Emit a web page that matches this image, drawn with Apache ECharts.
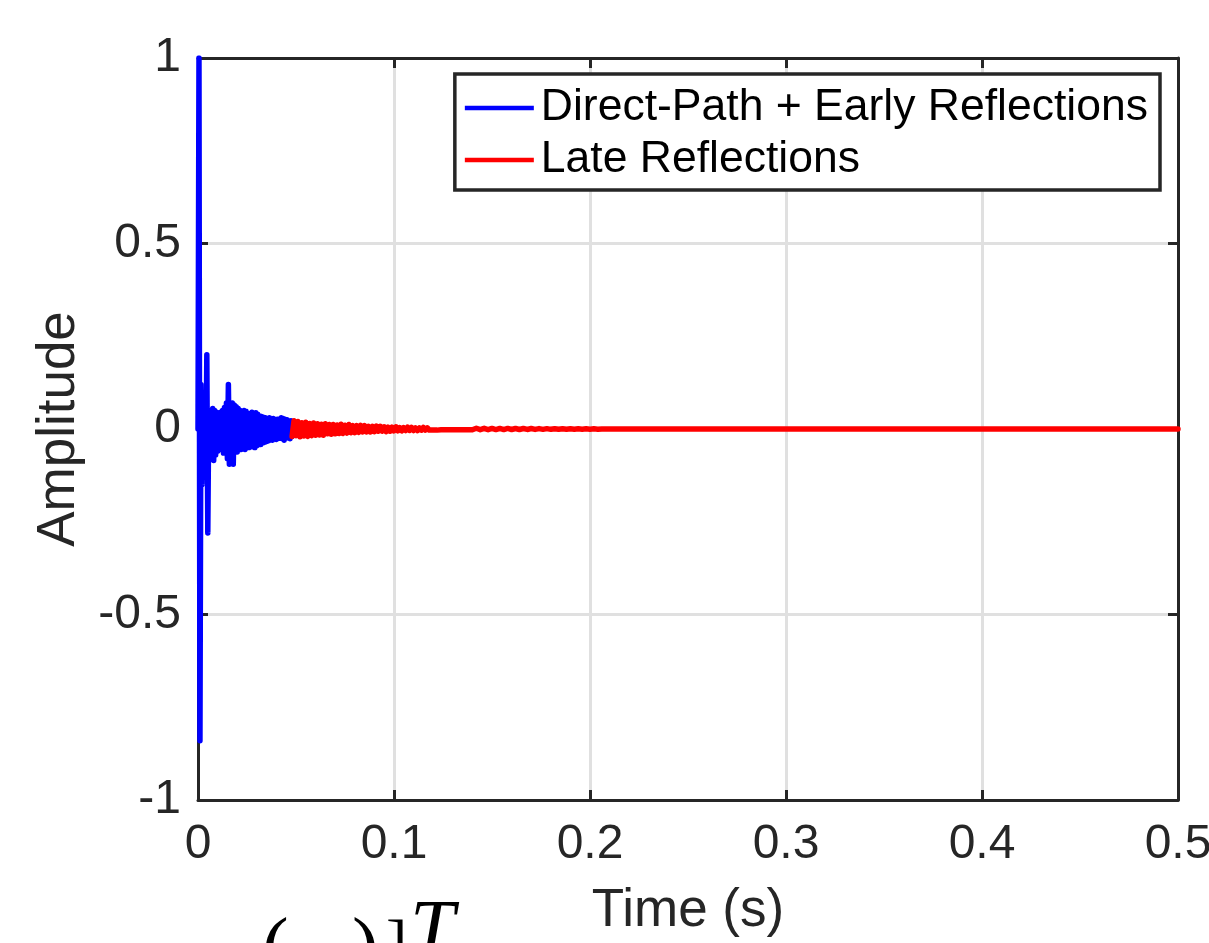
<!DOCTYPE html>
<html>
<head>
<meta charset="utf-8">
<script src="https://cdn.jsdelivr.net/npm/echarts@6/dist/echarts.min.js"></script>
<style>
  html, body { margin: 0; padding: 0; background: #fff; }
  #chart { width: 1209px; height: 943px; }
</style>
</head>
<body>
<div id="chart"></div>
<script>
const xTicks = [0, 0.1, 0.2, 0.3, 0.4, 0.5]
const yTicks = [-1, -0.5, 0, 0.5, 1]

const earlyStep = 0.0005
const earlyStart = 0
const earlyValues = [
  0, 1.0, -0.84, 0.12, -0.15, 0.08, -0.12, 0.06, -0.10, 0.20,
  -0.28, 0.05, -0.06, 0.04, -0.05, 0.055, -0.085, 0.05, -0.07, 0.045,
  -0.06, 0.04, -0.055, 0.045, -0.05, 0.05, -0.065, 0.058, -0.06, 0.07,
  -0.08, 0.12, -0.095, 0.06, -0.07, 0.07, -0.095, 0.065, -0.06, 0.06,
  -0.062, 0.055, -0.05, 0.05, -0.055, 0.045, -0.05, 0.05, -0.055, 0.048,
  -0.045, 0.042, -0.05, 0.04, -0.045, 0.045, -0.048, 0.04, -0.05, 0.044,
  -0.045, 0.04, -0.04, 0.035, -0.042, 0.034, -0.038, 0.032, -0.036, 0.03,
  -0.034, 0.028, -0.032, 0.03, -0.028, 0.026, -0.03, 0.028, -0.026, 0.025,
  -0.028, 0.026, -0.024, 0.027, -0.025, 0.03, -0.026, 0.028, -0.03, 0.026,
  -0.022, 0.025, -0.024, 0.022, -0.026, 0.022, -0.02
]

const lateStep = 0.001
const lateStart = 0.048
const lateValues = [
  -0.020, 0.022, -0.018, 0.020, -0.021, 0.017, -0.019, 0.018, -0.020, 0.015,
  -0.018, 0.016, -0.017, 0.014, -0.016, 0.013, -0.017, 0.014, -0.013, 0.012,
  -0.014, 0.012, -0.013, 0.011, -0.012, 0.013, -0.012, 0.010, -0.011, 0.012,
  -0.010, 0.009, -0.010, 0.009, -0.009, 0.010, -0.008, 0.009, -0.008, 0.007,
  -0.008, 0.007, -0.007, 0.008, -0.006, 0.007, -0.006, 0.006, -0.007, 0.005,
  -0.006, 0.005, -0.005, 0.006, -0.005, 0.004, -0.005, 0.004, -0.004, 0.005,
  -0.004, 0.004, -0.004, 0.003, -0.004, 0.003, -0.003, 0.004, -0.003, 0.003,
  -0.003, 0.002, -0.003, 0.002, -0.003, 0.002, -0.002, 0.003, -0.002, 0.002,
  -0.002, 0.002, -0.002, 0.002, -0.002, 0.002, -0.002, 0.002, -0.002, 0.002,
  -0.002, 0.002
]

const midStep = 0.002
const midStart = 0.14
const midValues = [
  -0.002, 0.002, -0.0018, 0.0018, -0.0018, 0.0016, -0.0016, 0.0016, -0.0015, 0.0015,
  -0.0014, 0.0014, -0.0013, 0.0013, -0.0012, 0.0012, -0.0011, 0.0011, -0.001, 0.001,
  -0.0009, 0.0009, -0.0008, 0.0008, -0.0007, 0.0007, -0.0006, 0.0006, -0.0005, 0.0005,
  -0.0004, 0.0004, -0.0004, 0.0003, -0.0003, 0.0003, -0.0002, 0.0002, -0.0002, 0.0002,
  -0.0001, 0.0001, -0.0001, 0.0001, -0.0001, 0.0001, 0, 0, 0, 0
]

const tailStep = 0.01
const tailStart = 0.24
const tailValues = [
  0, 0, 0, 0, 0, 0, 0, 0, 0, 0,
  0, 0, 0, 0, 0, 0, 0, 0, 0, 0,
  0, 0, 0, 0, 0, 0, 0
]

const toPoints = (start, step, values) =>
  values.map((v, i) => [+(start + i * step).toFixed(4), v])

const earlyData = toPoints(earlyStart, earlyStep, earlyValues)
const lateData = toPoints(lateStart, lateStep, lateValues)
  .concat(toPoints(midStart, midStep, midValues))
  .concat(toPoints(tailStart, tailStep, tailValues))

const FONT = '"Liberation Sans", Arial, Helvetica, sans-serif'
const INK = '#262626'
const GRID = '#e0e0e0'

const chart = echarts.init(document.getElementById('chart'), null, { renderer: 'canvas' })

const fmt = v => {
  const t = xTicks.concat(yTicks).find(k => Math.abs(k - v) < 1e-9)
  return t === undefined ? '' : String(t)
}

const boxAxis = {
  axisLine: { onZero: false, lineStyle: { color: INK, width: 3 } },
  axisTick: { inside: true, length: 10, lineStyle: { color: INK, width: 3 } }
}

chart.setOption({
  animation: false,
  backgroundColor: '#ffffff',
  grid: { left: 198, right: 31, top: 58, bottom: 143, containLabel: false, outerBoundsMode: 'none' },
  legend: {
    orient: 'vertical',
    right: 49,
    top: 74,
    padding: [9, 12, 5, 10],
    itemGap: 2,
    itemWidth: 69,
    itemHeight: 4.5,
    icon: 'rect',
    backgroundColor: '#ffffff',
    borderColor: INK,
    borderWidth: 3.5,
    borderRadius: 0,
    textStyle: { fontFamily: FONT, fontSize: 44.5, color: '#000', lineHeight: 50, padding: [0, 0, 0, 2] },
    data: ['Direct-Path + Early Reflections', 'Late Reflections']
  },
  xAxis: [{
    type: 'value',
    min: 0, max: 0.5, interval: 0.1,
    name: 'Time (s)',
    nameLocation: 'middle',
    nameGap: 85,
    nameTextStyle: { fontFamily: FONT, fontSize: 53, color: INK },
    ...boxAxis,
    axisLabel: { fontFamily: FONT, fontSize: 48, color: INK, margin: 21, lineHeight: 48, formatter: fmt },
    splitLine: { show: true, lineStyle: { color: GRID, width: 3 } }
  }, {
    type: 'value', position: 'top',
    min: 0, max: 0.5, interval: 0.1,
    ...boxAxis,
    axisLabel: { show: false },
    splitLine: { show: false }
  }],
  yAxis: [{
    type: 'value',
    min: -1, max: 1, interval: 0.5,
    name: 'Amplitude',
    nameLocation: 'middle',
    nameGap: 112,
    nameTextStyle: { fontFamily: FONT, fontSize: 53, color: INK },
    ...boxAxis,
    axisLabel: { fontFamily: FONT, fontSize: 48, color: INK, margin: 17, formatter: fmt },
    splitLine: { show: true, lineStyle: { color: GRID, width: 3 } }
  }, {
    type: 'value', position: 'right',
    min: -1, max: 1, interval: 0.5,
    ...boxAxis,
    axisLabel: { show: false },
    splitLine: { show: false }
  }],
  series: [{
    name: 'Direct-Path + Early Reflections',
    type: 'line',
    data: earlyData,
    showSymbol: false,
    symbol: 'none',
    color: '#0000ff',
    lineStyle: { color: '#0000ff', width: 5.5, join: 'round', cap: 'round' },
    z: 3
  }, {
    name: 'Late Reflections',
    type: 'line',
    data: lateData,
    showSymbol: false,
    symbol: 'none',
    color: '#ff0000',
    lineStyle: { color: '#ff0000', width: 5.5, join: 'round', cap: 'round' },
    z: 3
  }],
  graphic: [
    { type: 'text', left: 262, top: 912, style: { text: '(', font: '80px "Liberation Serif", serif', fill: '#000' } },
    { type: 'text', left: 352, top: 912, style: { text: ')', font: '80px "Liberation Serif", serif', fill: '#000' } },
    { type: 'text', left: 386, top: 914, style: { text: ']', font: '64px "Liberation Serif", serif', fill: '#000' } },
    { type: 'text', left: 410, top: 894, style: { text: 'T', font: 'italic 80px "Liberation Serif", serif', fill: '#000' } }
  ]
})
</script>
</body>
</html>
